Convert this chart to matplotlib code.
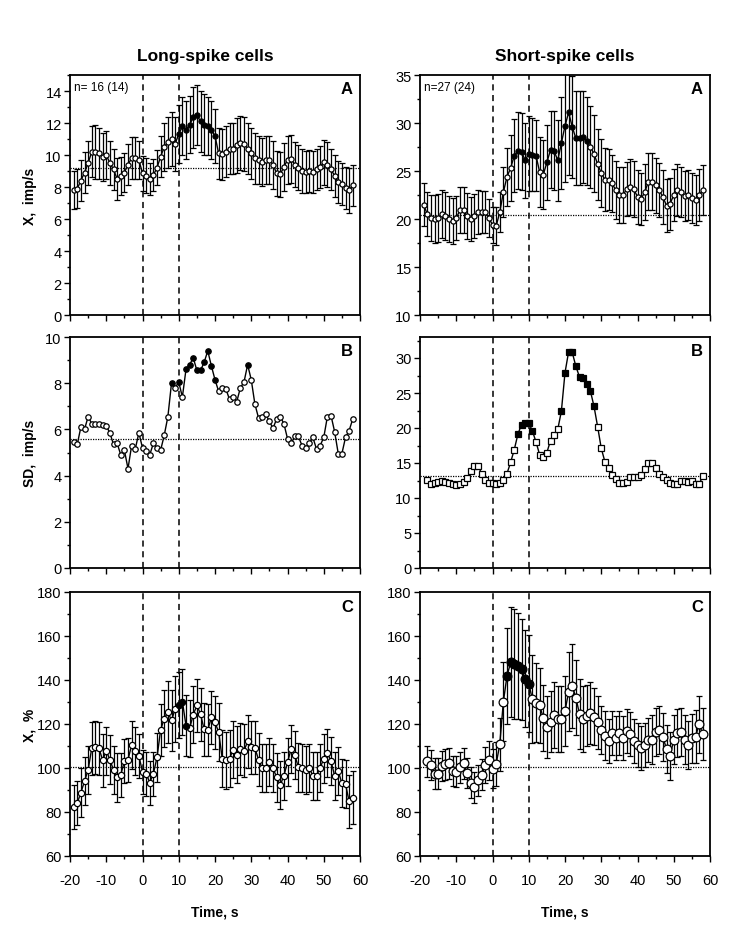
import numpy as np
import matplotlib
matplotlib.use("Agg")
import matplotlib.pyplot as plt
from matplotlib.ticker import MultipleLocator

plt.rcParams['font.family'] = ['Liberation Sans', 'DejaVu Sans']
plt.rcParams['axes.unicode_minus'] = False

# ---------------- data ----------------
# Long-spike cells, panel A: mean rate (imp/s), x = -19..58 s
la_x0 = -19
la_mean = [7.8, 7.9, 8.4, 8.9, 9.5, 10.2, 10.2, 10.1, 9.9, 10.0,
           9.5, 9.1, 8.5, 8.7, 8.9, 9.4, 9.8, 9.8, 9.7, 8.85,
           8.7, 8.5, 8.75, 9.2, 9.9, 10.5, 10.8, 11.0, 10.7, 11.3,
           11.8, 11.55, 11.9, 12.35, 12.5, 12.1, 11.9, 11.8, 11.55, 11.2,
           10.1, 10.05, 10.2, 10.4, 10.4, 10.6, 10.75, 10.7, 10.4, 10.1,
           9.8, 9.7, 9.55, 9.7, 9.7, 9.4, 8.85, 8.8, 9.25, 9.7,
           9.75, 9.4, 9.2, 9.0, 8.95, 9.0, 8.95, 9.1, 9.25, 9.55,
           9.4, 9.1, 8.7, 8.3, 8.2, 7.95, 7.8, 8.1]
la_se = [1.2, 1.2, 1.3, 1.3, 1.4, 1.6, 1.7, 1.6, 1.5, 1.5,
         1.4, 1.3, 1.3, 1.2, 1.2, 1.3, 1.3, 1.3, 1.2, 1.1,
         1.1, 1.0, 1.0, 1.1, 1.3, 1.5, 1.6, 1.7, 1.7, 1.8,
         1.8, 1.8, 1.8, 1.9, 1.9, 1.9, 1.9, 1.8, 1.8, 1.7,
         1.6, 1.6, 1.6, 1.6, 1.6, 1.7, 1.7, 1.7, 1.6, 1.6,
         1.6, 1.5, 1.5, 1.5, 1.5, 1.5, 1.4, 1.4, 1.5, 1.5,
         1.5, 1.4, 1.4, 1.4, 1.3, 1.3, 1.3, 1.3, 1.3, 1.4,
         1.4, 1.3, 1.3, 1.3, 1.3, 1.3, 1.4, 1.3]
la_filled = list(range(10, 21))
la_base = 9.2

# Short-spike cells, panel A
ra_x0 = -19
ra_mean = [21.5, 20.5, 20.1, 20.0, 20.1, 20.5, 20.3, 20.0, 19.8, 20.1,
           20.9, 20.9, 20.3, 20.0, 20.3, 20.7, 20.7, 20.7, 20.1, 19.4,
           19.25, 20.7, 22.8, 24.4, 25.3, 26.6, 27.1, 27.0, 26.1, 26.8,
           26.7, 26.6, 24.9, 24.6, 25.9, 27.2, 27.1, 26.1, 27.9, 29.7,
           31.1, 29.6, 28.4, 28.4, 28.5, 28.1, 27.5, 26.8, 25.7, 24.8,
           24.1, 24.1, 23.7, 23.0, 22.5, 22.5, 23.1, 23.3, 23.1, 22.3,
           22.1, 22.8, 23.9, 23.9, 23.5, 23.0, 22.3, 21.4, 21.6, 22.5,
           23.0, 22.8, 22.4, 22.5, 22.2, 22.0, 22.5, 23.0]
ra_se = [2.2, 2.3, 2.4, 2.5, 2.5, 2.5, 2.5, 2.4, 2.4, 2.3,
         2.4, 2.4, 2.4, 2.3, 2.3, 2.3, 2.2, 2.2, 2.0, 1.9,
         2.0, 2.1, 2.6, 3.0, 3.4, 3.8, 4.0, 4.0, 3.9, 3.9,
         3.8, 3.7, 3.6, 3.6, 3.9, 4.0, 4.1, 4.2, 4.8, 5.8,
         6.5, 5.3, 4.9, 4.9, 4.8, 4.6, 4.3, 4.0, 3.7, 3.5,
         3.3, 3.2, 3.0, 3.0, 2.9, 2.9, 2.8, 2.9, 2.9, 2.8,
         2.7, 2.9, 3.0, 3.0, 2.9, 2.8, 2.8, 2.8, 2.7, 2.7,
         2.7, 2.6, 2.6, 2.6, 2.6, 2.6, 2.7, 2.6]
ra_filled = [6, 7, 8, 9, 10, 11, 12] + list(range(15, 27))
ra_base = 20.4

# Long-spike cells, panel B: SD (imp/s)
lb_x0 = -19
lb_sd = [5.45, 5.35, 6.1, 6.0, 6.55, 6.25, 6.25, 6.25, 6.2, 6.15,
         5.85, 5.35, 5.4, 4.9, 5.1, 4.3, 5.3, 5.15, 5.85, 5.2,
         5.05, 4.9, 5.4, 5.2, 5.1, 5.75, 6.55, 8.0, 7.8, 8.05,
         7.4, 8.6, 8.8, 9.1, 8.55, 8.55, 8.9, 9.4, 8.75, 8.15,
         7.65, 7.8, 7.75, 7.3, 7.4, 7.2, 7.8, 8.05, 8.8, 8.15,
         7.1, 6.5, 6.55, 6.65, 6.35, 6.05, 6.45, 6.55, 6.25, 5.6,
         5.4, 5.7, 5.7, 5.3, 5.2, 5.4, 5.65, 5.15, 5.3, 5.65,
         6.55, 6.6, 5.9, 4.95, 4.95, 5.65, 5.95, 6.45]
lb_filled = [8, 10, 12, 13, 14, 15, 16, 17, 18, 19, 20, 29]
lb_base = 5.57

# Short-spike cells, panel B: SD (imp/s), x = -18..58
rb_x0 = -18
rb_sd = [12.55, 12.0, 12.1, 12.3, 12.5, 12.3, 12.1, 11.95, 11.9, 12.0,
         12.3, 12.9, 13.8, 14.6, 14.6, 13.5, 12.6, 12.1, 12.1, 12.0,
         12.2, 12.6, 13.5, 15.1, 16.9, 19.1, 20.5, 20.7, 20.7, 19.6,
         18.0, 16.2, 15.8, 16.5, 18.2, 19.0, 19.8, 22.4, 27.9, 30.9,
         30.8, 28.8, 27.3, 27.2, 26.3, 25.3, 23.1, 20.2, 17.1, 15.2,
         14.3, 13.3, 12.7, 12.2, 12.2, 12.3, 12.95, 12.95, 12.95, 13.3,
         14.1, 15.0, 15.0, 14.3, 13.5, 13.0, 12.6, 12.1, 11.95, 12.0,
         12.4, 12.5, 12.3, 12.4, 12.0, 12.0, 13.1]
rb_filled = [7, 8, 9, 10, 11] + list(range(19, 29))
rb_base = 13.1

# Long-spike cells, panel C: normalized rate (%)
lc_x0 = -19
lc_mean = [82.4, 84.1, 88.8, 94.0, 99.1, 109.0, 109.5, 109.0, 103.5, 107.8,
           103.8, 99.1, 95.7, 96.9, 103.1, 103.8, 110.4, 107.8, 105.5, 98.3,
           97.4, 93.4, 97.4, 104.8, 117.3, 122.5, 125.4, 121.6, 126.8, 128.5,
           130.2, 119.3, 118.1, 124.2, 128.5, 124.5, 117.6, 117.3, 123.0, 120.7,
           116.4, 104.3, 103.5, 104.3, 108.3, 106.0, 108.6, 107.8, 112.1, 109.5,
           109.2, 103.8, 100.0, 100.0, 102.6, 100.0, 95.7, 92.2, 96.5, 102.6,
           108.6, 106.0, 100.3, 100.0, 99.1, 100.0, 96.5, 96.5, 100.0, 104.3,
           106.9, 103.1, 96.5, 98.6, 93.1, 92.7, 84.8, 86.5]
lc_se = [10, 10, 11, 11, 11, 12, 12, 12, 12, 11,
         11, 11, 11, 10, 10, 10, 11, 11, 10, 10,
         10, 10, 10, 11, 12, 13, 14, 14, 15, 15,
         15, 14, 13, 13, 12, 12, 12, 12, 12, 12,
         13, 13, 13, 13, 13, 13, 12, 12, 12, 12,
         12, 12, 11, 11, 11, 11, 11, 11, 11, 11,
         11, 11, 11, 11, 11, 11, 11, 11, 11, 11,
         11, 11, 11, 11, 11, 11, 12, 12]
lc_filled = [10, 11, 12]
lc_base = 100.3

# Short-spike cells, panel C, x = -18..58
rc_x0 = -18
rc_mean = [103.1, 101.4, 97.4, 97.4, 100.9, 101.7, 102.1, 98.6, 98.3, 100.3,
           102.1, 97.7, 93.4, 91.3, 94.5, 96.9, 101.4, 103.5, 99.7, 101.7,
           110.7, 130.2, 141.8, 148.0, 147.4, 146.3, 144.9, 140.6, 138.3, 131.3,
           129.7, 128.5, 122.8, 118.7, 121.1, 124.2, 122.5, 122.5, 125.9, 134.6,
           137.2, 132.0, 124.5, 122.5, 123.8, 125.0, 123.3, 120.7, 117.3, 114.7,
           112.1, 115.9, 113.8, 115.9, 113.5, 116.9, 115.5, 112.4, 110.4, 109.0,
           110.4, 112.9, 112.9, 116.4, 117.3, 114.2, 108.6, 105.5, 112.9, 115.9,
           116.4, 112.9, 110.4, 113.5, 114.2, 119.9, 115.5]
rc_se = [7, 7, 7, 7, 7, 7, 7, 7, 7, 7,
         7, 7, 7, 7, 7, 7, 8, 9, 9, 10,
         12, 18, 22, 25, 25, 24, 23, 22, 22, 20,
         18, 17, 15, 14, 14, 15, 15, 15, 16, 18,
         19, 17, 16, 15, 14, 14, 13, 12, 11, 11,
         10, 10, 10, 10, 10, 10, 10, 10, 10, 10,
         10, 10, 11, 11, 11, 11, 11, 11, 11, 11,
         11, 11, 11, 11, 12, 13, 12]
rc_filled = [4, 5, 6, 7, 8, 9, 10]
rc_base = 100.3

# ---------------- figure ----------------
W, H = 750, 929
fig = plt.figure(figsize=(W / 100, H / 100), dpi=100)


def px_axes(x0, x1, y0, y1):
    return fig.add_axes([x0 / W, 1 - y1 / H, (x1 - x0) / W, (y1 - y0) / H])


cols = [(70, 360), (420, 710)]
rows = [(76, 316), (338, 569), (593, 857)]

axes = {}
for r, (y0, y1) in enumerate(rows):
    for c, (x0, x1) in enumerate(cols):
        axes[(r, c)] = px_axes(x0, x1, y0, y1)


def style(ax, ylim, major, minor, xlabels):
    ax.set_xlim(-20, 60)
    ax.set_ylim(*ylim)
    ax.xaxis.set_major_locator(MultipleLocator(10))
    ax.xaxis.set_minor_locator(MultipleLocator(5))
    ax.yaxis.set_major_locator(MultipleLocator(major))
    ax.yaxis.set_minor_locator(MultipleLocator(minor))
    ax.tick_params(which='both', direction='out', top=False, right=False,
                   width=1.0, labelsize=10.5)
    ax.tick_params(axis='y', pad=2)
    ax.tick_params(axis='x', pad=8)
    ax.tick_params(which='major', length=4)
    ax.tick_params(which='minor', length=2.5)
    if not xlabels:
        ax.tick_params(axis='x', labelbottom=False)
    for s in ax.spines.values():
        s.set_linewidth(1.3)
    ax.axvline(0, color='k', lw=1.1, ls=(0, (4, 3)), zorder=1)
    ax.axvline(10, color='k', lw=1.1, ls=(0, (4, 3)), zorder=1)


def series(ax, x0, y, se=None, filled=(), marker='o', ms=4.2, base=None):
    x = np.arange(x0, x0 + len(y))
    y = np.asarray(y, float)
    if base is not None:
        ax.axhline(base, color='k', lw=0.9, ls=(0, (1, 1)), zorder=1)
    if se is not None:
        ax.errorbar(x, y, yerr=np.asarray(se, float), fmt='none', ecolor='k',
                    elinewidth=0.9, capsize=2.0, capthick=0.9, zorder=2)
    ax.plot(x, y, '-', color='k', lw=1.0, zorder=3)
    mask = np.isin(x, filled)
    ax.plot(x[~mask], y[~mask], ls='none', marker=marker, ms=ms, mfc='white',
            mec='k', mew=0.9, zorder=4)
    ax.plot(x[mask], y[mask], ls='none', marker=marker, ms=ms, mfc='k',
            mec='k', mew=0.9, zorder=4)


ax = axes[(0, 0)]
style(ax, (0, 15), 2, 1, False)
series(ax, la_x0, la_mean, la_se, la_filled, ms=3.7, base=la_base)
ax.text(0.015, 0.975, 'n= 16 (14)', transform=ax.transAxes, fontsize=8.5,
        ha='left', va='top')

ax = axes[(0, 1)]
style(ax, (10, 35), 5, 2.5, False)
series(ax, ra_x0, ra_mean, ra_se, ra_filled, ms=3.7, base=ra_base)
ax.text(0.015, 0.975, 'n=27 (24)', transform=ax.transAxes, fontsize=8.5,
        ha='left', va='top')

ax = axes[(1, 0)]
style(ax, (0, 10), 2, 1, False)
series(ax, lb_x0, lb_sd, None, lb_filled, ms=3.9, base=lb_base)

ax = axes[(1, 1)]
style(ax, (0, 33), 5, 2.5, False)
series(ax, rb_x0, rb_sd, None, rb_filled, marker='s', ms=3.8, base=rb_base)

ax = axes[(2, 0)]
style(ax, (60, 180), 20, 10, True)
series(ax, lc_x0, lc_mean, lc_se, lc_filled, ms=4.5, base=lc_base)

ax = axes[(2, 1)]
style(ax, (60, 180), 20, 10, True)
series(ax, rc_x0, rc_mean, rc_se, rc_filled, ms=6.3, base=rc_base)

letters = {(0, 0): 'A', (0, 1): 'A', (1, 0): 'B', (1, 1): 'B', (2, 0): 'C', (2, 1): 'C'}
for k, t in letters.items():
    axes[k].text(0.975, 0.975, t, transform=axes[k].transAxes, fontsize=12,
                 fontweight='bold', ha='right', va='top')

fig.text(205 / W, 1 - 57 / H, 'Long-spike cells', fontsize=12.5,
         fontweight='bold', ha='center', va='center')
fig.text(565 / W, 1 - 57 / H, 'Short-spike cells', fontsize=12.5,
         fontweight='bold', ha='center', va='center')

fig.text(30 / W, 1 - 196 / H, 'X,  imp/s', fontsize=10, fontweight='bold',
         rotation=90, ha='center', va='center')
fig.text(30 / W, 1 - 453 / H, 'SD,  imp/s', fontsize=10, fontweight='bold',
         rotation=90, ha='center', va='center')
fig.text(30 / W, 1 - 725 / H, 'X,  %', fontsize=10, fontweight='bold',
         rotation=90, ha='center', va='center')

fig.text(215 / W, 1 - 913 / H, 'Time, s', fontsize=10, fontweight='bold',
         ha='center', va='center')
fig.text(565 / W, 1 - 913 / H, 'Time, s', fontsize=10, fontweight='bold',
         ha='center', va='center')

fig.savefig('out.png', dpi=100)
